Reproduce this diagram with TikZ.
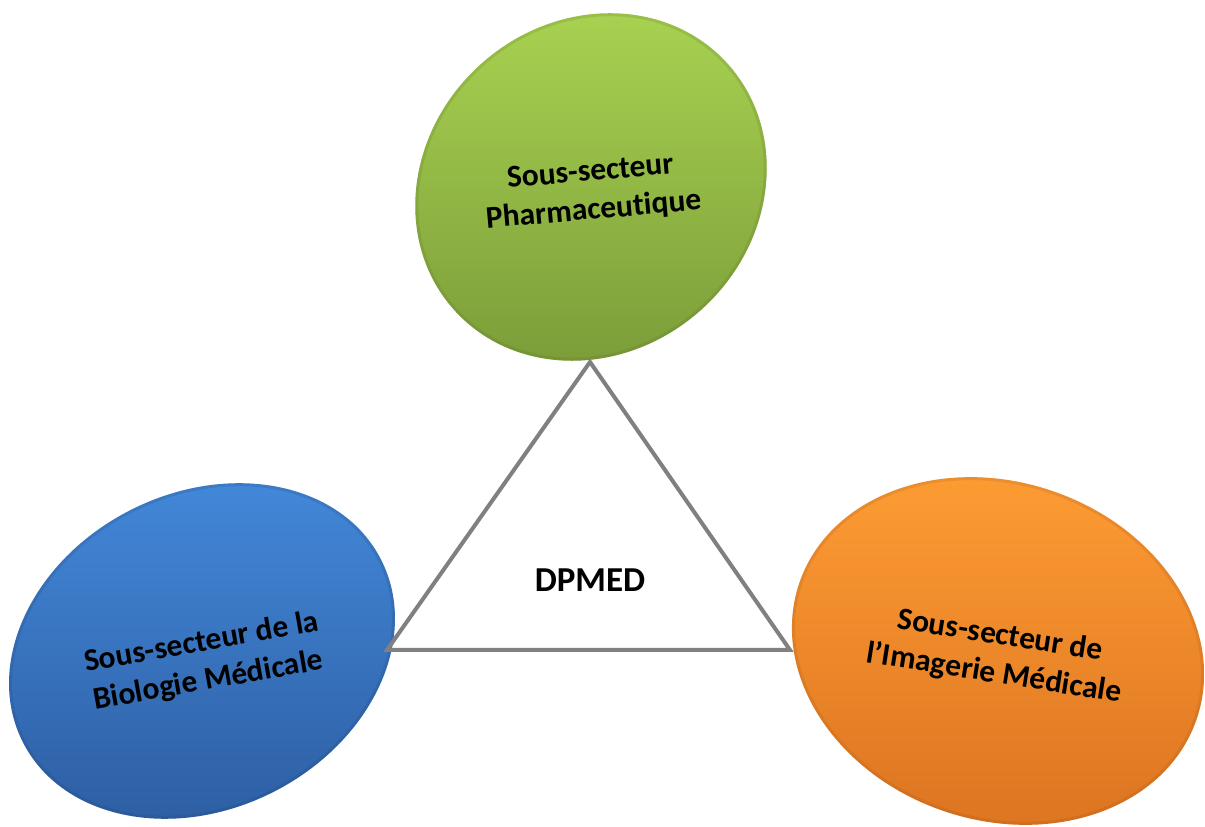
\documentclass[tikz,border=0pt]{standalone}
\usepackage{fontspec}
\setmainfont{Carlito}[Ligatures=NoCommon]
\definecolor{gtop}{RGB}{170,212,82}
\definecolor{gbot}{RGB}{122,155,56}
\definecolor{btop}{RGB}{68,138,220}
\definecolor{bbot}{RGB}{44,92,160}
\definecolor{otop}{RGB}{255,158,52}
\definecolor{obot}{RGB}{222,118,34}
\definecolor{tri}{RGB}{128,128,128}
\begin{document}
\begin{tikzpicture}[x=1pt,y=1pt]
\tikzset{
  lbl/.style={font=\bfseries\fontsize{31.5}{38.5}\selectfont, align=center, text=black, inner sep=0pt},
  rim/.style={line width=3pt, draw opacity=0.18}
}
\useasboundingbox (0,0) rectangle (1205,827);
% green ellipse
\shade[top color=gtop, bottom color=gbot, rotate around={42:(591,640)}]
  (591,640) ellipse [x radius=184, y radius=165];
\draw[rim, draw=gbot!70!black, rotate around={42:(591,640)}]
  (591,640) ellipse [x radius=182.5, y radius=163.5];
% blue ellipse
\shade[top color=btop, bottom color=bbot, rotate around={27:(202,176)}]
  (202,176) ellipse [x radius=201, y radius=158];
\draw[rim, draw=bbot!70!black, rotate around={27:(202,176)}]
  (202,176) ellipse [x radius=199.5, y radius=156.5];
% orange ellipse
\shade[top color=otop, bottom color=obot, rotate around={-19:(998,176)}]
  (998,176) ellipse [x radius=210, y radius=169];
\draw[rim, draw=obot!70!black, rotate around={-19:(998,176)}]
  (998,176) ellipse [x radius=208.5, y radius=167.5];
% labels
\node[lbl, rotate=5] (pharma) at (592,635) {Sous-secteur\\Pharmaceutique};
\node[lbl, rotate=10] (bio) at (205,165) {Sous-secteur de la\\Biologie Médicale};
\node[lbl, rotate=-9] (imag) at (997,172) {Sous-secteur de\\l’Imagerie Médicale};
% triangle
\coordinate (apex) at (590,465);
\coordinate (bl) at (387,177);
\coordinate (br) at (790,177);
\draw[tri, line width=4pt, line join=miter] (apex) -- (bl) -- (br) -- cycle;
\node[lbl, font=\bfseries\fontsize{35}{40}\selectfont] (dpmed) at (590,247) {DPMED};
\end{tikzpicture}
\end{document}
